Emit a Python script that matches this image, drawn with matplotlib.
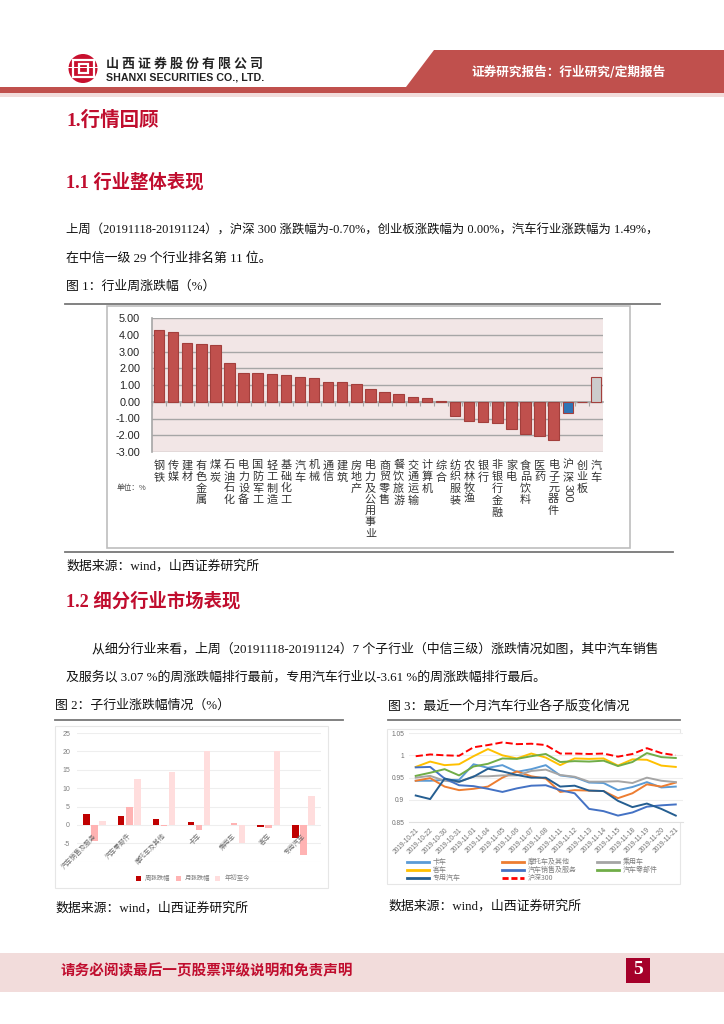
import matplotlib
matplotlib.use("Agg")
import matplotlib.pyplot as plt
from matplotlib.legend import Legend
from matplotlib.patches import Polygon, Rectangle, Circle

W, H = 724, 1024
SERIF = ['Liberation Serif', 'Noto Sans CJK SC']
SANS = ['Noto Sans CJK SC', 'DejaVu Sans']
RED = '#c00d2e'

# ---- chart 1 data
industries = ['钢铁', '传媒', '建材', '有色金属', '煤炭', '石油石化', '电力设备', '国防军工',
              '轻工制造', '基础化工', '汽车', '机械', '通信', '建筑', '房地产', '电力及公用事业',
              '商贸零售', '餐饮旅游', '交通运输', '计算机', '综合', '纺织服装', '农林牧渔', '银行',
              '非银行金融', '家电', '食品饮料', '医药', '电子元器件', '沪深300', '创业板', '汽车']
weekly_change = [4.27, 4.17, 3.53, 3.47, 3.38, 2.30, 1.72, 1.71, 1.66, 1.60, 1.49, 1.44, 1.20,
                 1.18, 1.05, 0.75, 0.58, 0.44, 0.28, 0.22, 0.06, -0.87, -1.17, -1.18, -1.28,
                 -1.60, -1.95, -2.05, -2.30, -0.70, 0.00, 1.49]
bar_colors = ['#c0504d'] * 29 + ['#2e75b6', '#c0504d', '#cccccc']
y1_ticks = [5, 4, 3, 2, 1, 0, -1, -2, -3]

# ---- chart 2 data
sub_industries = ['汽车销售及服务', '汽车零部件', '摩托车及其他', '卡车', '乘用车', '客车', '专用汽车']
week_pct = [3.07, 2.3, 1.6, 0.8, -0.1, -0.5, -3.61]
month_pct = [-4.4, 4.8, -0.4, -1.5, 0.6, -0.7, -8.2]
ytd_pct = [1.2, 12.5, 14.5, 20, -4.8, 20, 8]
y2_ticks = [-10, -5, 0, 5, 10, 15, 20, 25]

# ---- chart 3 data
dates = ['2019-10-21', '2019-10-22', '2019-10-30', '2019-10-31', '2019-11-01', '2019-11-04',
         '2019-11-05', '2019-11-06', '2019-11-07', '2019-11-08', '2019-11-11', '2019-11-12',
         '2019-11-13', '2019-11-14', '2019-11-15', '2019-11-18', '2019-11-19', '2019-11-20',
         '2019-11-21']
truck = [0.943, 0.943, 0.945, 0.945, 0.980, 0.972, 0.978, 0.963, 0.969, 0.978, 0.955, 0.951,
         0.939, 0.938, 0.922, 0.929, 0.940, 0.928, 0.930]
motorcycle = [0.943, 0.949, 0.930, 0.922, 0.925, 0.930, 0.950, 0.964, 0.953, 0.948, 0.918, 0.922,
              0.921, 0.920, 0.904, 0.915, 0.935, 0.930, 0.939]
passenger = [0.950, 0.954, 0.943, 0.940, 0.953, 0.953, 0.955, 0.955, 0.965, 0.968, 0.956, 0.952,
             0.941, 0.941, 0.942, 0.938, 0.950, 0.943, 0.940]
bus = [0.974, 0.986, 0.978, 0.980, 0.998, 1.014, 1.000, 0.993, 1.004, 0.995, 0.978, 0.993,
       0.992, 0.993, 0.977, 0.991, 0.990, 0.977, 0.974]
sales = [0.973, 0.974, 0.948, 0.933, 0.931, 0.925, 0.918, 0.926, 0.932, 0.933, 0.922, 0.915,
         0.880, 0.875, 0.865, 0.872, 0.885, 0.888, 0.890]
parts = [0.954, 0.961, 0.969, 0.955, 0.975, 0.981, 0.993, 0.992, 0.998, 1.003, 0.985, 0.987,
         0.986, 0.988, 0.976, 0.985, 1.005, 0.996, 0.994]
special = [0.910, 0.902, 0.948, 0.941, 0.952, 0.970, 0.964, 0.956, 0.950, 0.950, 0.930, 0.932,
           0.921, 0.920, 0.898, 0.884, 0.892, 0.880, 0.865]
hs300 = [0.998, 1.002, 1.000, 0.999, 1.018, 1.023, 1.029, 1.025, 1.026, 1.023, 1.004, 1.004,
         1.003, 1.004, 0.997, 1.003, 1.016, 1.005, 1.000]
y3_ticks = [1.05, 1, 0.95, 0.9, 0.85]

fig = plt.figure(figsize=(W / 100, H / 100), dpi=100, facecolor='white')
page = fig.add_axes([0, 0, 1, 1])
page.set_xlim(0, W)
page.set_ylim(H, 0)
page.axis('off')


def axes_px(x0, y0, x1, y1):
    return fig.add_axes([x0 / W, 1 - y1 / H, (x1 - x0) / W, (y1 - y0) / H])


def txt(x, y, s, size=9.3, color='#111111', family=SERIF, weight='normal', ha='left', **kw):
    return page.text(x, y, s, fontsize=size, color=color, family=family, weight=weight,
                     ha=ha, va='center', **kw)


# ---- header
page.add_patch(Polygon([(406, 87), (434, 50), (724, 50), (724, 93), (0, 93), (0, 87)],
                       closed=True, fc='#c0504d', ec='none'))
page.add_patch(Rectangle((0, 93), W, 4, fc='#f2dcdb', ec='none'))
page.add_patch(Circle((83, 68.5), 14.5, fc='#c8102e', ec='none'))
page.add_patch(Rectangle((72.5, 60), 21, 17, fc='none', ec='white', lw=1.6))
page.add_patch(Rectangle((78.5, 64), 9, 9, fc='none', ec='white', lw=1.6))
page.add_patch(Rectangle((66, 66.5), 34, 1.4, fc='white', ec='none'))
txt(106, 63.5, '山 西 证 券 股 份 有 限 公 司', 9.35, '#222222', SANS, 'bold')
txt(106, 78, 'SHANXI SECURITIES CO., LTD.', 7.7, '#222222', ['Liberation Sans'], 'bold')
txt(471, 72.5, '证券研究报告：行业研究/定期报告', 9.1, 'white', SANS, 'bold')

# ---- body text
txt(66, 120, '1.行情回顾', 14, RED, SERIF, 'bold')
txt(66, 182, '1.1 行业整体表现', 13.2, RED, SERIF, 'bold')
txt(66, 231, '上周（20191118-20191124），沪深 300 涨跌幅为-0.70%，创业板涨跌幅为 0.00%，汽车行业涨跌幅为 1.49%，', 8.9)
txt(66, 259, '在中信一级 29 个行业排名第 11 位。')
txt(66, 287, '图 1：行业周涨跌幅（%）')
txt(66, 566, '数据来源：wind，山西证券研究所')
txt(66, 601, '1.2 细分行业市场表现', 13.2, RED, SERIF, 'bold')
txt(92, 649, '从细分行业来看，上周（20191118-20191124）7 个子行业（中信三级）涨跌情况如图，其中汽车销售')
txt(66, 677, '及服务以 3.07 %的周涨跌幅排行最前，专用汽车行业以-3.61 %的周涨跌幅排行最后。')
txt(55, 706, '图 2：子行业涨跌幅情况（%）')
txt(388, 706, '图 3：最近一个月汽车行业各子版变化情况')
txt(55, 908, '数据来源：wind，山西证券研究所')
txt(388, 906, '数据来源：wind，山西证券研究所')

# ---- rules and chart frames
for x0, x1, y in [(65, 660, 304), (65, 673, 552), (55, 343, 720), (388, 680, 720)]:
    page.plot([x0, x1], [y, y], color='#777777', lw=1.3)
page.add_patch(Rectangle((107, 306), 523, 242, fc='white', ec='#bdbdbd', lw=1.2))
page.add_patch(Rectangle((55, 726), 273, 162, fc='white', ec='#e6e6e6', lw=0.8))
page.add_patch(Rectangle((387, 729), 293, 155, fc='white', ec='#e6e6e6', lw=0.8))

# ---- footer
page.add_patch(Rectangle((0, 953), W, 39, fc='#f2dcdb', ec='none'))
txt(61, 970, '请务必阅读最后一页股票评级说明和免责声明', 10.5, RED, SANS, 'bold', style='italic')
page.add_patch(Rectangle((626, 958), 24, 25, fc='#a5002a', ec='none'))
txt(638, 970, '5', 14, 'white', ['Liberation Serif'], 'bold', ha='center')

# ---- chart 1
ax1 = axes_px(152, 318, 603, 452)
ax1.set_facecolor('#f2e6e6')
xs = list(range(len(industries)))
ax1.spines['bottom'].set_position(('data', 0))
ax1.spines['bottom'].set_color('#a6a6a6')
ax1.spines['bottom'].set_linewidth(1.2)
for s in ['top', 'right']:
    ax1.spines[s].set_visible(False)
ax1.spines['left'].set_color('#a6a6a6')
ax1.spines['left'].set_linewidth(1.2)
ax1.bar(xs, weekly_change, width=0.74, color=bar_colors, edgecolor='#a33f3c', linewidth=0.8, zorder=3)
ax1.set_xlim(-0.5, len(industries) - 0.5)
ax1.set_ylim(-3, 5)
ax1.set_yticks(y1_ticks)
ax1.set_yticklabels([f'{v:.2f}' for v in y1_ticks], fontsize=7.8, family=['Liberation Sans'], color='#222222')
ax1.grid(axis='y', color='#a6a6a6', lw=1, zorder=1)
ax1.set_axisbelow(True)
ax1.tick_params(axis='y', length=0, pad=8.5)
ax1.tick_params(axis='x', length=3, color='#a6a6a6', pad=0)
ax1.set_xticks([i - 0.5 for i in xs])
ax1.set_xticklabels([])
for i, name in enumerate(industries):
    label = '沪\n深' if name == '沪深300' else '\n'.join(name)
    ax1.annotate(label, (i, -3), xytext=(0, -6), textcoords='offset points', ha='center', va='top',
                 annotation_clip=False, fontsize=8, family=SANS, linespacing=1.17, color='#333333')
    if name == '沪深300':
        ax1.annotate('300', (i, -3), xytext=(0, -23), textcoords='offset points', ha='center', va='top',
                     annotation_clip=False, fontsize=8, family=['Liberation Sans'], rotation=-90, color='#333333')
txt(117, 488, '单位：%', 5.5, '#444444', SANS)

# ---- chart 2
ax2 = axes_px(77, 733, 321, 861.7)
groups = list(range(len(sub_industries)))
bw = 0.185
ax2.bar([g - bw * 1.25 for g in groups], week_pct, width=bw, color='#c00000', label='周涨跌幅', zorder=3)
ax2.bar(groups, month_pct, width=bw, color='#ffb3b3', label='月涨跌幅', zorder=3)
ax2.bar([g + bw * 1.25 for g in groups], ytd_pct, width=bw, color='#ffdddd', label='年初至今', zorder=3)
ax2.set_xlim(-0.5, len(groups) - 0.5)
ax2.set_ylim(-10, 25)
ax2.set_yticks(y2_ticks)
ax2.set_yticklabels(['' if v == -10 else str(v) for v in y2_ticks], fontsize=5,
                    color='#7f7f7f', family=['Liberation Sans'])
ax2.grid(axis='y', color='#eeeeee', lw=0.8, zorder=1)
ax2.tick_params(length=0, pad=5)
for s in ax2.spines.values():
    s.set_visible(False)
ax2.set_xticks(groups)
ax2.set_xticklabels([])
for g, name in zip(groups, sub_industries):
    ax2.annotate(name, (g - 0.05, 0), xytext=(0, -5), textcoords='offset points', rotation=45, ha='right',
                 va='top', rotation_mode='anchor', fontsize=4.8, color='#6f6f6f', family=SANS, zorder=5)
ax2.legend(loc='center', bbox_to_anchor=(0.475, -0.13), ncol=3, frameon=False,
           prop={'family': SANS, 'size': 4.6}, labelcolor='#7f7f7f', handlelength=0.8, handleheight=0.8,
           columnspacing=0.8, handletextpad=0.6)

# ---- chart 3
ax3 = axes_px(408.5, 733, 683, 822.3)
series3 = [('卡车', truck, '#5b9bd5', '-'), ('摩托车及其他', motorcycle, '#ed7d31', '-'),
           ('乘用车', passenger, '#a5a5a5', '-'), ('客车', bus, '#ffc000', '-'),
           ('汽车销售及服务', sales, '#4472c4', '-'), ('汽车零部件', parts, '#70ad47', '-'),
           ('专用汽车', special, '#255e91', '-'), ('沪深300', hs300, '#ff0000', '--')]
xd = list(range(len(dates)))
lines = {}
for name, vals, col, ls in series3:
    lines[name] = ax3.plot(xd, vals, color=col, ls=ls, lw=1.4, label=name, zorder=3)[0]
ax3.set_xlim(-0.5, len(dates) - 0.5)
ax3.set_ylim(0.85, 1.05)
ax3.set_yticks(y3_ticks)
ax3.set_yticklabels(['1.05', '1', '0.95', '0.9', '0.85'], fontsize=4.8, color='#6f6f6f', family=['Liberation Sans'])
ax3.grid(axis='y', color='#eeeeee', lw=0.8, zorder=1)
ax3.tick_params(length=0, pad=3)
for s in ['top', 'right', 'left']:
    ax3.spines[s].set_visible(False)
ax3.spines['bottom'].set_color('#e0e0e0')
ax3.set_xticks(xd)
ax3.set_xticklabels(dates, rotation=45, ha='right', rotation_mode='anchor', fontsize=4.8, color='#6f6f6f',
                    family=['Liberation Sans'])
legend_columns = [(['卡车', '客车', '专用汽车'], 407), (['摩托车及其他', '汽车销售及服务', '沪深300'], 502),
                  (['乘用车', '汽车零部件'], 597)]
for names, px in legend_columns:
    leg = Legend(ax3, [lines[n] for n in names], names, loc='upper left',
                 bbox_to_anchor=((px - 408.5) / 274.5, (822.3 - 858) / 89.3), ncol=1, frameon=False,
                 prop={'family': SANS, 'size': 5}, labelcolor='#7f7f7f', handlelength=3.2,
                 handletextpad=0.5, labelspacing=0.02, borderaxespad=0, borderpad=0)
    for handle, n in zip(leg.get_lines(), names):
        handle.set_linewidth(2)
        if n == '沪深300':
            handle.set_linestyle((0, (2.2, 1)))
    ax3.add_artist(leg)

fig.savefig('out.png', dpi=100, facecolor='white')
